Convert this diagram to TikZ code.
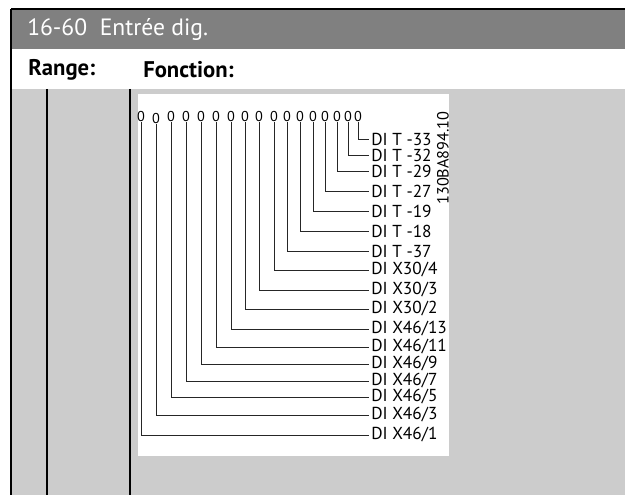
\documentclass[tikz,border=0pt]{standalone}
\usepackage{fontspec}
\setmainfont{PT Sans}
\definecolor{headgray}{HTML}{808080}
\definecolor{bodygray}{HTML}{CCCCCC}

\begin{document}
\begin{tikzpicture}[x=0.75pt, y=-0.75pt,
    zero/.style={inner sep=0pt, font=\fontsize{10.7}{12}\selectfont},
    pin/.style={anchor=west, inner sep=1.5pt, font=\fontsize{13}{15}\selectfont},
    wire/.style={draw=black!85, line width=0.6pt},
    rule/.style={black, line width=1.2pt},
    head/.style={anchor=west, inner sep=0pt, font=\fontsize{17.7}{19}\selectfont},
    colhead/.style={anchor=west, inner sep=0pt, font=\bfseries\fontsize{17}{19}\selectfont}
]
    \useasboundingbox (0,0) rectangle (625,495);

    % table frame
    \fill[headgray] (11,9) rectangle (625,49);
    \fill[bodygray] (11,89) rectangle (625,495);
    \fill[white] (138,94) rectangle (449,456);
    \draw[rule] (11,9) -- (625,9);
    \draw[rule] (11,9) -- (11,495);
    \draw[rule] (47,89) -- (47,495);
    \draw[rule] (130,89) -- (130,495);

    \node[head, text=white] (title) at (27,30) {16-60\ \ Entrée dig.};
    \node[colhead] (range) at (28,70) {Range:};
    \node[colhead] (fonction) at (143,70) {Fonction:};

    % bit row
    \node[zero] (z1) at (141,117) {0};
    \node[zero] (z2) at (156,119) {0};
    \node[zero] (z3) at (171,117) {0};
    \node[zero] (z4) at (186,117) {0};
    \node[zero] (z5) at (201,117) {0};
    \node[zero] (z6) at (216,117) {0};
    \node[zero] (z7) at (231,117) {0};
    \node[zero] (z8) at (245,117) {0};
    \node[zero] (z9) at (259,117) {0};
    \node[zero] (z10) at (274,117) {0};
    \node[zero] (z11) at (287,117) {0};
    \node[zero] (z12) at (300,117) {0};
    \node[zero] (z13) at (313,117) {0};
    \node[zero] (z14) at (325,117) {0};
    \node[zero] (z15) at (337,117) {0};
    \node[zero] (z16) at (348,117) {0};
    \node[zero] (z17) at (358,117) {0};

    % inputs
    \node[pin] (p1) at (369,435) {DI X46/1};
    \node[pin] (p2) at (369,415) {DI X46/3};
    \node[pin] (p3) at (369,397) {DI X46/5};
    \node[pin] (p4) at (369,381) {DI X46/7};
    \node[pin] (p5) at (369,364) {DI X46/9};
    \node[pin] (p6) at (369,347) {DI X46/11};
    \node[pin] (p7) at (369,329) {DI X46/13};
    \node[pin] (p8) at (369,309) {DI X30/2};
    \node[pin] (p9) at (369,290) {DI X30/3};
    \node[pin] (p10) at (369,270) {DI X30/4};
    \node[pin] (p11) at (369,251) {DI T -37};
    \node[pin] (p12) at (369,231) {DI T -18};
    \node[pin] (p13) at (369,211) {DI T -19};
    \node[pin] (p14) at (369,191) {DI T -27};
    \node[pin] (p15) at (369,171) {DI T -29};
    \node[pin] (p16) at (369,155) {DI T -32};
    \node[pin] (p17) at (369,139) {DI T -33};

    \node[rotate=90, inner sep=0pt, font=\fontsize{12.2}{14}\selectfont] (code) at (443,158) {130BA894.10};

    \draw[wire] (z1.south) |- (p1.west);
    \draw[wire] (z2.south) |- (p2.west);
    \draw[wire] (z3.south) |- (p3.west);
    \draw[wire] (z4.south) |- (p4.west);
    \draw[wire] (z5.south) |- (p5.west);
    \draw[wire] (z6.south) |- (p6.west);
    \draw[wire] (z7.south) |- (p7.west);
    \draw[wire] (z8.south) |- (p8.west);
    \draw[wire] (z9.south) |- (p9.west);
    \draw[wire] (z10.south) |- (p10.west);
    \draw[wire] (z11.south) |- (p11.west);
    \draw[wire] (z12.south) |- (p12.west);
    \draw[wire] (z13.south) |- (p13.west);
    \draw[wire] (z14.south) |- (p14.west);
    \draw[wire] (z15.south) |- (p15.west);
    \draw[wire] (z16.south) |- (p16.west);
    \draw[wire] (z17.south) |- (p17.west);
\end{tikzpicture}
\end{document}
